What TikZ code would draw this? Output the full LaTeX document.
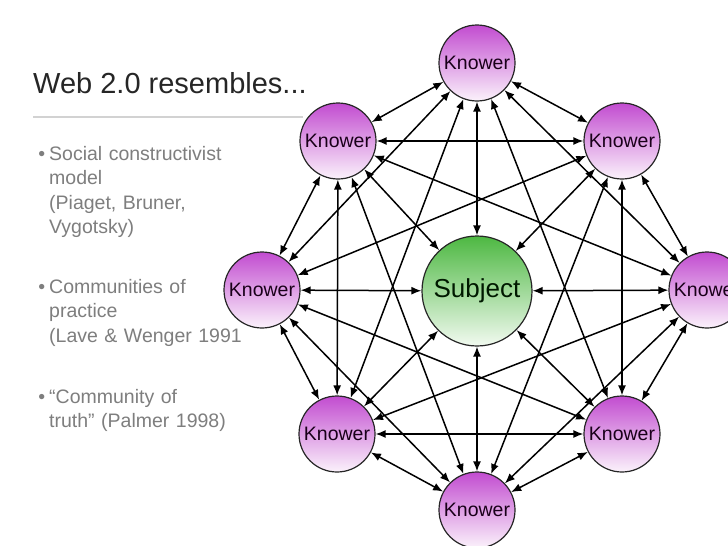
\documentclass[tikz,border=0pt]{standalone}
\usepackage{fontspec}
\setmainfont{Liberation Sans}
\usetikzlibrary{arrows.meta, positioning}
\definecolor{knowtop}{HTML}{C24CD0}
\definecolor{knowbot}{HTML}{FBF2FB}
\definecolor{subjtop}{HTML}{4DB842}
\definecolor{subjbot}{HTML}{F2FAF0}
\definecolor{bulletgray}{HTML}{7E7E7E}
\definecolor{rulegray}{HTML}{D2D2D2}

\tikzset{
    knower/.style={circle, draw=black!85, line width=1.2pt, minimum size=76pt, inner sep=0pt,
        top color=knowtop, bottom color=knowbot, text=black!80!violet,
        font=\fontsize{19.5}{19.5}\selectfont},
    subject/.style={knower, minimum size=110pt, top color=subjtop, bottom color=subjbot,
        text=black!90!green, font=\fontsize{26}{26}\selectfont},
    link/.style={{Latex[length=10pt,width=8pt]}-{Latex[length=10pt,width=8pt]}, line width=1.5pt},
    bulletitem/.style={anchor=base west, text width=240pt, align=left, inner sep=0pt,
        text=bulletgray, font=\fontsize{19.5}{24.5}\selectfont},
}
\newcommand{\dotmark}{\llap{\textbullet\hspace{4pt}}}

\begin{document}
\begin{tikzpicture}[x=1pt, y=-1pt]
        \clip (0,0) rectangle (728,546);
        \fill[white] (0,0) rectangle (728,546);
        % title and bullets
        \node[anchor=base west, inner sep=0pt, text=black!85, font=\fontsize{29}{29}\selectfont] (title) at (33,93) {Web 2.0 resembles...};
        \draw[rulegray, line width=1.2pt] (33,117) -- (303,117);
        \node[bulletitem] (item1) at (49,160) {\dotmark Social constructivist\\model\\(Piaget, Bruner,\\Vygotsky)};
        \node[bulletitem] (item2) at (49,293) {\dotmark Communities of\\practice\\(Lave \& Wenger 1991};
        \node[bulletitem] (item3) at (49,403) {\dotmark “Community of\\truth” (Palmer 1998)};
        % network
        \node[subject] (subj) at (477,291) {Subject};
        \node[knower] (kn1) at (477,63) {Knower};
        \node[knower] (kn2) at (622,141) {Knower};
        \node[knower] (kn3) at (707,290) {Knower};
        \node[knower] (kn4) at (622,434) {Knower};
        \node[knower] (kn5) at (477,510) {Knower};
        \node[knower] (kn6) at (337,434) {Knower};
        \node[knower] (kn7) at (262,290) {Knower};
        \node[knower] (kn8) at (338,141) {Knower};
        \foreach \i in {1,...,8}
            \draw[link] (kn\i) -- (subj);
        \foreach \a/\b in {1/2,1/3,1/4,1/6,1/7,1/8,2/3,2/4,2/5,2/7,2/8,3/4,3/5,3/6,3/8,
                           4/5,4/6,4/7,5/6,5/7,5/8,6/7,6/8,7/8}
            \draw[link] (kn\a) -- (kn\b);
    \end{tikzpicture}
\end{document}
